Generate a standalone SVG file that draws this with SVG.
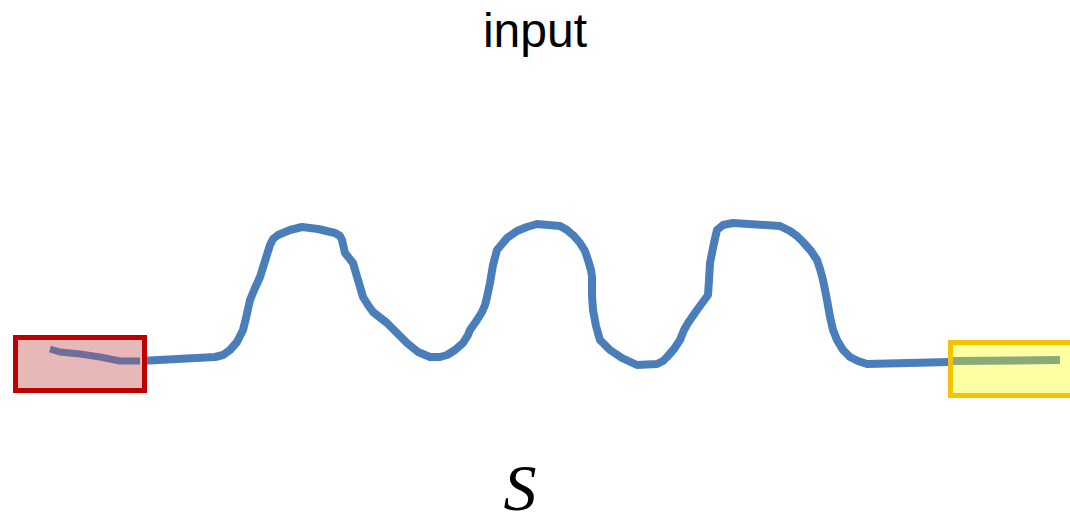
<svg xmlns="http://www.w3.org/2000/svg" width="1070" height="524" viewBox="0 0 1070 524">
<style>
.lbl{font-family:"Liberation Sans",Arial,sans-serif;fill:#000}
.sym{font-family:"Liberation Serif","Times New Roman",serif;font-style:italic;fill:#000}
.curve{fill:none;stroke:#4A7EBB;stroke-width:8;stroke-linejoin:round;stroke-linecap:round}
</style>
<rect width="1070" height="524" fill="#fff"/>
<text class="lbl" x="535" y="47" font-size="48" text-anchor="middle">input</text>
<g id="connectors">
<polyline class="curve" points="140,361 215,357 223,355 230,350 237,342 243,330 246,318 250,300 255,288 260,277 265,261 270,245 273,239 278,235 290,230 302,227 318,229 335,233 340,236 342,240 345,253 353,263 358,280 363,297 368,305 373,312 387,323 397,333 407,343 418,352 430,357 440,357 447,355 455,350 463,343 468,335 470,330 477,320 482,312 485,305 487,297 490,283 493,265 497,250 502,244 507,238 517,231 527,227 537,224 560,226 567,230 574,236 580,243 585,251 588,260 591,270 592,277 592,295 593,310 596,326 600,340 610,350 622,358 637,365 657,364 663,361 667,357 674,349 680,340 684,330 688,323 697,310 708,295 709,280 710,263 714,243 717,230 723,225 733,223 780,226 790,231 797,236 803,242 811,251 817,260 820,269 823,280 827,300 830,317 833,330 837,340 843,350 850,357 858,361 867,364 950,362"/>
</g>
<g id="node-start">
<rect x="15.5" y="337.5" width="129" height="53" fill="#E6B9B8" stroke="#C00000" stroke-width="5"/>
<polyline points="50,349 60,352 80,354 100,357 120,361 140,361" fill="none" stroke="#6F6D99" stroke-width="7" stroke-linejoin="round"/>
</g>
<g id="node-end">
<rect x="950.5" y="342.5" width="125" height="53" fill="#FFFFA3" stroke="#F2C300" stroke-width="5"/>
<line x1="953" y1="361" x2="1060" y2="360" stroke="#8AAA78" stroke-width="8"/>
</g>
<text class="sym" x="520" y="510" font-size="66" text-anchor="middle">S</text>
</svg>
